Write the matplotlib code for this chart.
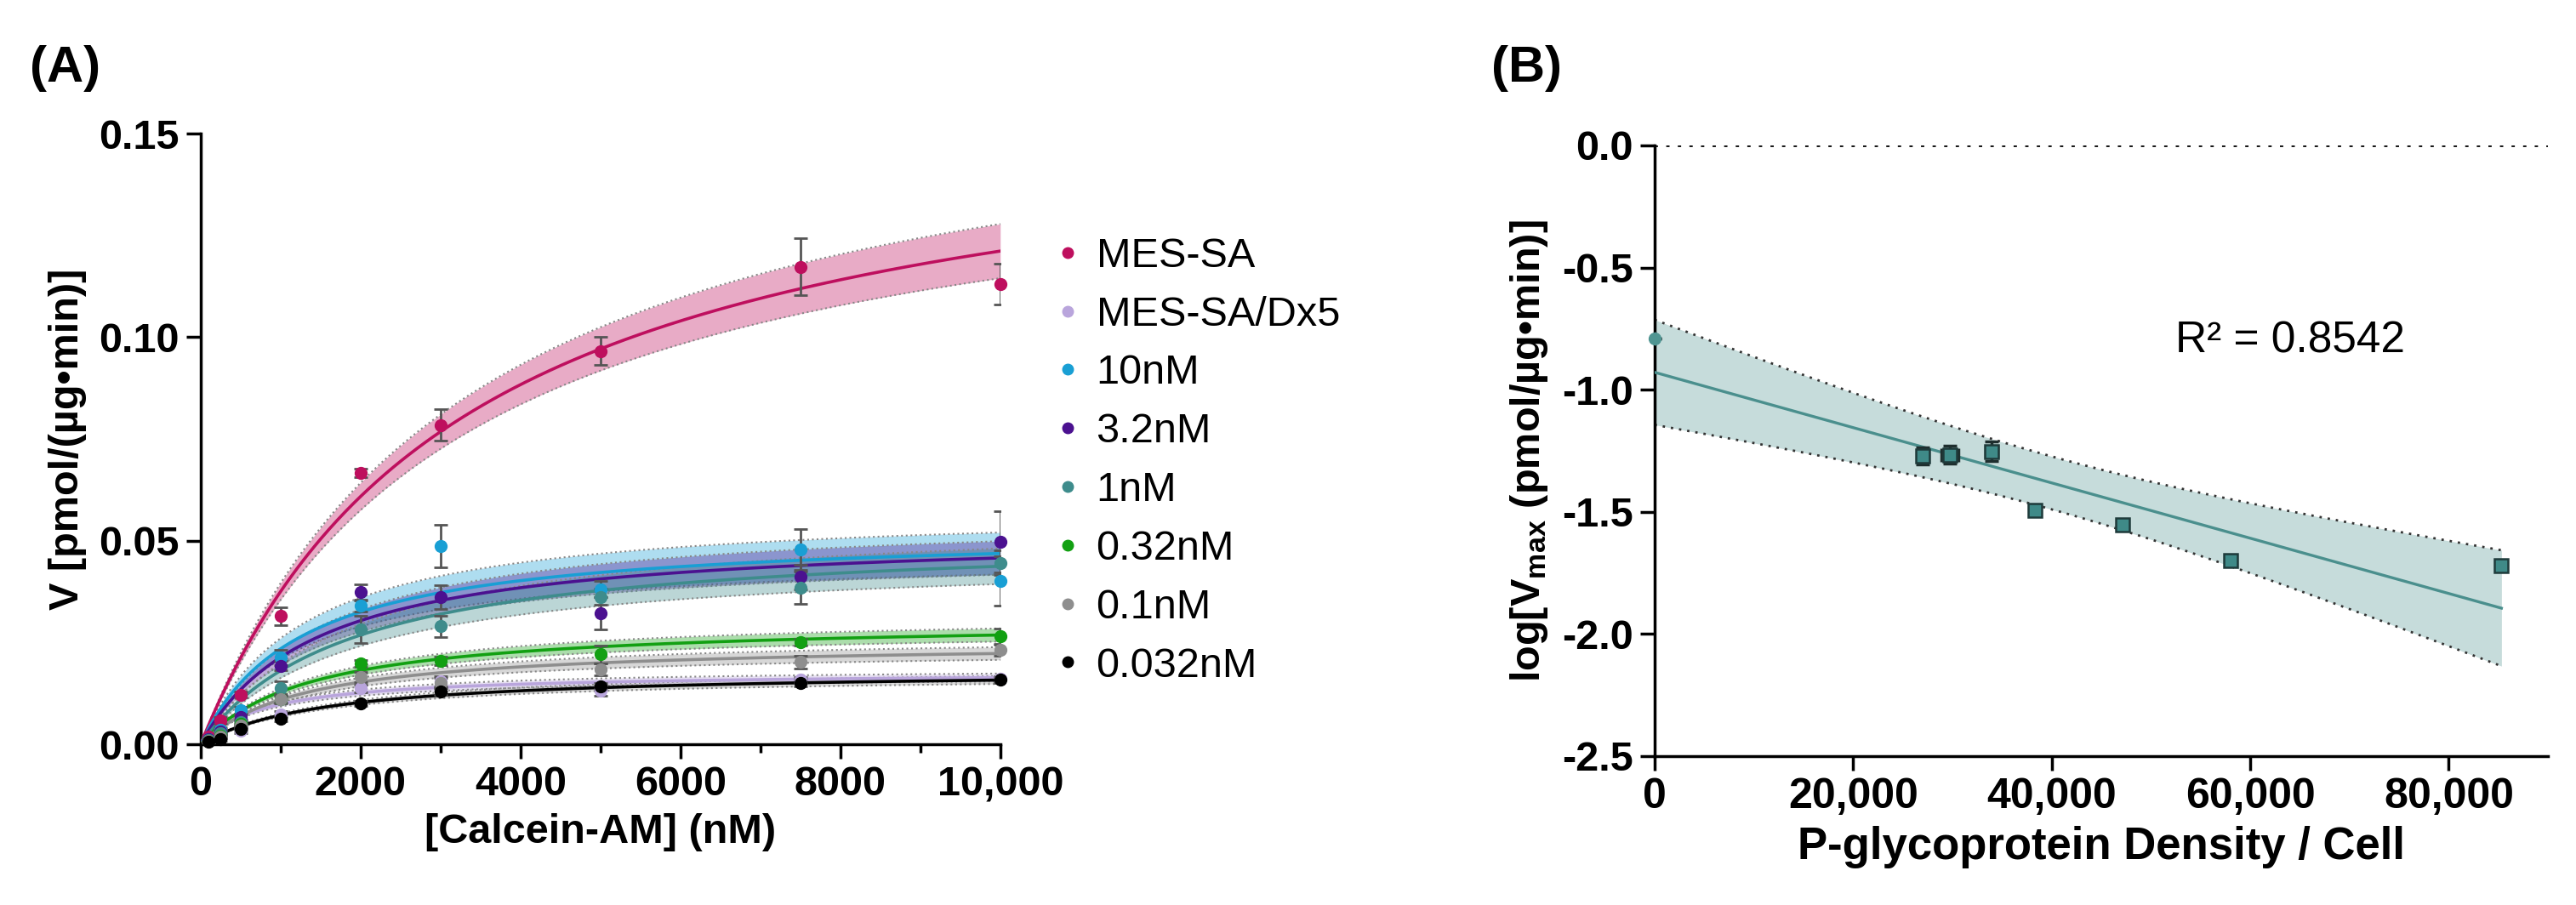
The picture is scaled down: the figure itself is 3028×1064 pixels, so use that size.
import numpy as np
import matplotlib.pyplot as plt
from matplotlib.lines import Line2D
from matplotlib.ticker import MultipleLocator, FuncFormatter

plt.rcParams['font.family'] = ['Liberation Sans', 'DejaVu Sans']
plt.rcParams['axes.unicode_minus'] = False
plt.rcParams['mathtext.fontset'] = 'custom'
plt.rcParams['mathtext.rm'] = 'Liberation Sans'
plt.rcParams['mathtext.bf'] = 'Liberation Sans:bold'
plt.rcParams['mathtext.default'] = 'bf'

# ---- panel A: calcein-AM kinetics ----
conc = [100, 250, 500, 1000, 2000, 3000, 5000, 7500, 10000]

labels = ['MES-SA', 'MES-SA/Dx5', '10nM', '3.2nM', '1nM', '0.32nM', '0.1nM', '0.032nM']
colors = ['#be0f5e', '#b9a5dc', '#199fd4', '#4b1190', '#3e8c8c', '#12a012', '#8e8e8e', '#000000']

v_mes = [0.0018, 0.0058, 0.0122, 0.0315, 0.0667, 0.0784, 0.0966, 0.1173, 0.1131]
e_mes = [0.0005, 0.0008, 0.0008, 0.0022, 0.0010, 0.0039, 0.0034, 0.0070, 0.0050]
v_dx5 = [0.0008, 0.0019, 0.0033, 0.0073, 0.0137, 0.0155, 0.0132, 0.0158, 0.0160]
e_dx5 = [0.0003, 0.0004, 0.0005, 0.0008, 0.0010, 0.0012, 0.0012, 0.0008, 0.0008]
v_10 = [0.0013, 0.0036, 0.0084, 0.0214, 0.0341, 0.0487, 0.0381, 0.0478, 0.0401]
e_10 = [0.0004, 0.0006, 0.0008, 0.0019, 0.0015, 0.0053, 0.0020, 0.0050, 0.0060]
v_32 = [0.0012, 0.0032, 0.0066, 0.0193, 0.0373, 0.0362, 0.0322, 0.0411, 0.0497]
e_32 = [0.0004, 0.0005, 0.0007, 0.0012, 0.0019, 0.0029, 0.0040, 0.0030, 0.0075]
v_1 = [0.0010, 0.0028, 0.0055, 0.0139, 0.0282, 0.0290, 0.0362, 0.0384, 0.0446]
e_1 = [0.0003, 0.0005, 0.0006, 0.0015, 0.0033, 0.0026, 0.0020, 0.0040, 0.0030]
v_032 = [0.0009, 0.0022, 0.0050, 0.0111, 0.0198, 0.0205, 0.0221, 0.0251, 0.0265]
e_032 = [0.0003, 0.0004, 0.0005, 0.0008, 0.0008, 0.0010, 0.0022, 0.0008, 0.0020]
v_01 = [0.0008, 0.0018, 0.0045, 0.0110, 0.0165, 0.0150, 0.0184, 0.0202, 0.0232]
e_01 = [0.0003, 0.0004, 0.0005, 0.0010, 0.0012, 0.0012, 0.0015, 0.0015, 0.0015]
v_0032 = [0.0006, 0.0012, 0.0038, 0.0063, 0.0101, 0.0129, 0.0143, 0.0150, 0.0158]
e_0032 = [0.0002, 0.0003, 0.0004, 0.0006, 0.0006, 0.0008, 0.0008, 0.0008, 0.0008]

values = [v_mes, v_dx5, v_10, v_32, v_1, v_032, v_01, v_0032]
errors = [e_mes, e_dx5, e_10, e_32, e_1, e_032, e_01, e_0032]

# Michaelis-Menten fit parameters and band width
vmax = [0.161, 0.0177, 0.0527, 0.0524, 0.0519, 0.0305, 0.0252, 0.0182]
km = [3290, 800, 1245, 1451, 1870, 1364, 1300, 1541]
band = [0.055, 0.06, 0.11, 0.09, 0.10, 0.06, 0.07, 0.06]

# ---- panel B: Vmax vs P-gp density ----
pgp = [0, 27040, 29780, 33990, 38330, 47130, 58030, 85320]
logv = [-0.79, -1.27, -1.267, -1.252, -1.495, -1.554, -1.700, -1.719]
logv_err = [0, 0.035, 0.037, 0.040, 0.012, 0.020, 0.015, 0.015]
pgp_err = [0, 0, 860, 600, 0, 0, 500, 0]
r2_text = 'R\u00b2 = 0.8542'

fig = plt.figure(figsize=(30.28, 10.64), dpi=100)
axA = fig.add_axes([0.0779, 0.1776, 0.3104, 0.6748])
axB = fig.add_axes([0.6423, 0.1645, 0.3468, 0.6748])

xs = np.linspace(0, 10000, 400)
for i in range(len(labels)):
    fit = vmax[i] * xs / (km[i] + xs)
    lo = fit * (1 - band[i])
    hi = fit * (1 + band[i])
    axA.fill_between(xs, lo, hi, color=colors[i] if i != 7 else '#9a9a9a', alpha=0.35, lw=0, zorder=2)
    axA.plot(xs, lo, ls=':', color='#888888', lw=1.5, zorder=2)
    axA.plot(xs, hi, ls=':', color='#888888', lw=1.5, zorder=2)
    axA.plot(xs, fit, color=colors[i], lw=2.6, zorder=3)
for i in range(len(labels)):
    axA.errorbar(conc, values[i], yerr=errors[i], fmt='none', ecolor='#555555',
                 elinewidth=2, capsize=6, capthick=2, zorder=4)
    axA.plot(conc, values[i], 'o', color=colors[i], ms=10, zorder=5, clip_on=False)

axA.set_xlim(0, 10000)
axA.set_ylim(0, 0.15)
axA.xaxis.set_major_locator(MultipleLocator(2000))
axA.xaxis.set_minor_locator(MultipleLocator(1000))
axA.yaxis.set_major_locator(MultipleLocator(0.05))
axA.xaxis.set_major_formatter(FuncFormatter(lambda v, p: '10,000' if v == 10000 else '%d' % v))
axA.yaxis.set_major_formatter(FuncFormatter(lambda v, p: '%.2f' % v))
axA.set_xlabel('[Calcein-AM] (nM)', fontsize=35, fontweight='bold', labelpad=8)
axA.set_ylabel('V [pmol/(\u00b5g\u2022min)]', fontsize=35, fontweight='bold', labelpad=10)

handles = [Line2D([], [], ls='none', marker='o', color=c, ms=9) for c in colors]
axA.legend(handles, labels, loc='upper left', bbox_to_anchor=(0.4095, 0.738),
           bbox_transform=fig.transFigure, frameon=False, fontsize=35,
           handlelength=0.6, handletextpad=0.4, labelspacing=0.49, borderpad=0,
           borderaxespad=0)

# panel B: linear regression with 95% confidence band
x = np.array(pgp, dtype=float)
y = np.array(logv)
slope, icpt = np.polyfit(x, y, 1)
n = len(x)
resid = y - (slope * x + icpt)
s = np.sqrt(np.sum(resid ** 2) / (n - 2))
sxx = np.sum((x - x.mean()) ** 2)
t95 = 2.447
xb = np.linspace(x.min(), x.max(), 300)
yb = slope * xb + icpt
half = t95 * s * np.sqrt(1 / n + (xb - x.mean()) ** 2 / sxx)

axB.fill_between(xb, yb - half, yb + half, color='#c6dcdb', lw=0, zorder=1)
axB.plot(xb, yb - half, ls=(0, (1, 2.5)), color='#333333', lw=2, zorder=2)
axB.plot(xb, yb + half, ls=(0, (1, 2.5)), color='#333333', lw=2, zorder=2)
axB.plot(xb, yb, color='#4a8f8d', lw=2.4, zorder=3)
axB.axhline(0, ls=(0, (1, 2.5)), color='#111111', lw=2.8, zorder=2)
axB.errorbar(pgp, logv, yerr=logv_err, xerr=pgp_err, fmt='none', ecolor='#1e2e2e',
             elinewidth=2.5, capsize=6, capthick=2.5, zorder=4)
axB.plot(pgp[1:], logv[1:], 's', color='#3f8a88', mec='#1e3a3a', mew=1.8, ms=11, zorder=5)
axB.plot(pgp[:1], logv[:1], 'o', color='#4f9592', ms=10, zorder=5, clip_on=False)
axB.text(52500, -0.80, r2_text, fontsize=37, va='center', ha='left')

axB.set_xlim(0, 90000)
axB.set_ylim(-2.5, 0.0)
axB.set_xticks([0, 20000, 40000, 60000, 80000])
axB.yaxis.set_major_locator(MultipleLocator(0.5))
axB.xaxis.set_major_formatter(FuncFormatter(lambda v, p: '{:,}'.format(int(v))))
axB.yaxis.set_major_formatter(FuncFormatter(lambda v, p: '%.1f' % v))
axB.set_xlabel('P-glycoprotein Density / Cell', fontsize=38, fontweight='bold', labelpad=8)
axB.set_ylabel('log[V$_{max}$ (pmol/\u00b5g\u2022min)]', fontsize=35, fontweight='bold', labelpad=10)

for ax in (axA, axB):
    for side in ('top', 'right'):
        ax.spines[side].set_visible(False)
    for side in ('left', 'bottom'):
        ax.spines[side].set_linewidth(2.5)
    ax.tick_params(which='major', length=12, width=2.5, labelsize=35, pad=6)
    ax.tick_params(which='minor', length=7, width=2.5)
    for lab in ax.get_xticklabels() + ax.get_yticklabels():
        lab.set_fontweight('bold')
axB.tick_params(axis='x', labelsize=36)

fig.text(0.0115, 0.924, '(A)', fontsize=43, fontweight='bold', va='center')
fig.text(0.579, 0.924, '(B)', fontsize=43, fontweight='bold', va='center')

fig.savefig('out.png', dpi=100)
